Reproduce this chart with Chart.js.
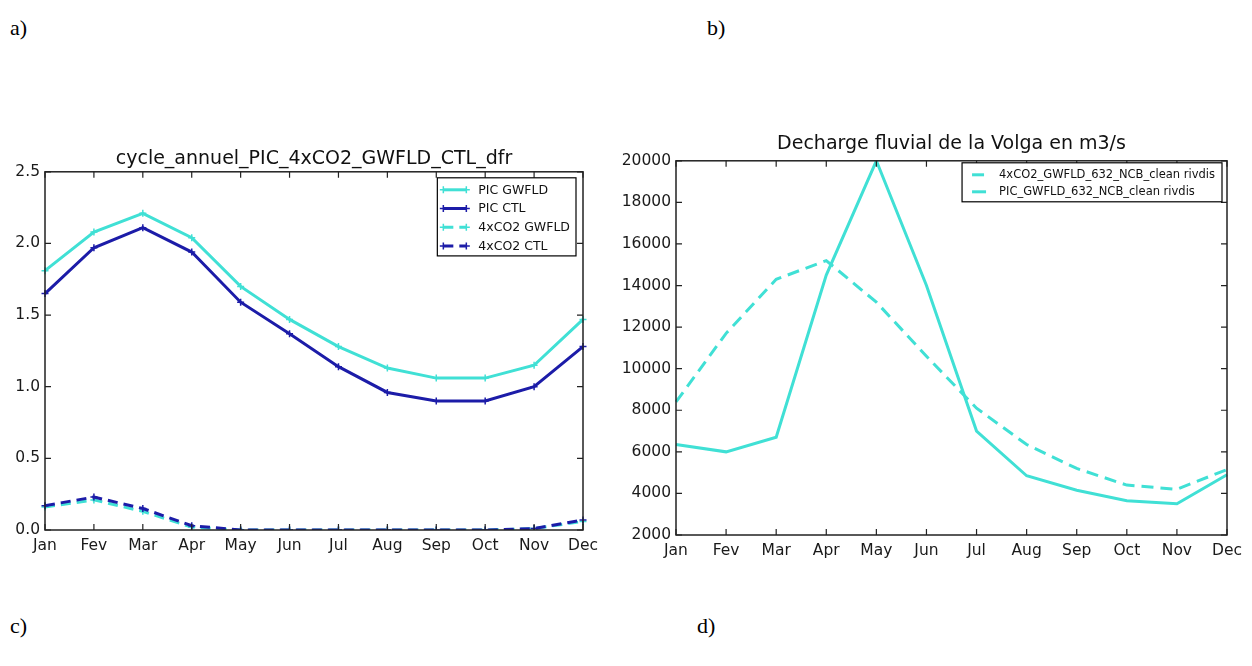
<!DOCTYPE html>
<html>
<head>
<meta charset="utf-8">
<script src="https://cdn.jsdelivr.net/npm/chart.js@4.4.1/dist/chart.umd.min.js"></script>
<style>
  body { margin: 0; background: #fff; width: 1252px; height: 666px; position: relative; overflow: hidden; }
  .lbl { position: absolute; font-family: "Liberation Serif", serif; font-size: 22px; color: #000; line-height: 26px; }
  .box { position: absolute; }
</style>
</head>
<body>
<div class="lbl" style="left:10px;top:15px">a)</div>
<div class="lbl" style="left:707px;top:15px">b)</div>
<div class="lbl" style="left:10px;top:613px">c)</div>
<div class="lbl" style="left:697px;top:613px">d)</div>

<div class="box" style="left:0;top:130px"><canvas id="chartA" width="600" height="440"></canvas></div>
<div class="box" style="left:600px;top:120px"><canvas id="chartB" width="652" height="450"></canvas></div>

<script>
// mois
const months = ['Jan', 'Fev', 'Mar', 'Apr', 'May', 'Jun', 'Jul', 'Aug', 'Sep', 'Oct', 'Nov', 'Dec'];

// a) cycle annuel dfr
const titleA = 'cycle_annuel_PIC_4xCO2_GWFLD_CTL_dfr';
const picGwfld = [1.81, 2.08, 2.21, 2.04, 1.70, 1.47, 1.28, 1.13, 1.06, 1.06, 1.15, 1.47];
const picCtl = [1.65, 1.97, 2.11, 1.94, 1.59, 1.37, 1.14, 0.96, 0.90, 0.90, 1.00, 1.28];
const co2Gwfld = [0.16, 0.21, 0.13, 0.02, 0.00, 0.00, 0.00, 0.00, 0.00, 0.00, 0.01, 0.06];
const co2Ctl = [0.17, 0.23, 0.15, 0.03, 0.00, 0.00, 0.00, 0.00, 0.00, 0.00, 0.01, 0.07];
const yTicksA = [0, 0.5, 1.0, 1.5, 2.0, 2.5];

// b) decharge Volga
const titleB = 'Decharge fluvial de la Volga en m3/s';
const volgaCo2 = [8400, 11700, 14300, 15200, 13200, 10600, 8100, 6350, 5200, 4400, 4200, 5150];
const volgaPic = [6350, 6000, 6700, 14500, 20000, 14000, 7000, 4850, 4150, 3650, 3500, 4900];
const yTicksB = [2000, 4000, 6000, 8000, 10000, 12000, 14000, 16000, 18000, 20000];

const cyan = '#40e0d5';
const navy = '#1c1ca8';
const tickFont = { family: 'DejaVu Sans', size: 15.5 };

// cadre noir + graduations vers l'interieur (style matplotlib)
const framePlugin = {
  id: 'frame',
  afterDatasetsDraw(chart) {
    const a = chart.chartArea, c = chart.ctx;
    const xs = chart.scales.x, ys = chart.scales.y;
    c.save();
    c.strokeStyle = '#222';
    c.lineWidth = 1.5;
    c.strokeRect(a.left, a.top, a.right - a.left, a.bottom - a.top);
    c.lineWidth = 1.2;
    c.beginPath();
    xs.ticks.forEach((t, i) => {
      const px = xs.getPixelForTick(i);
      c.moveTo(px, a.bottom); c.lineTo(px, a.bottom - 6);
      c.moveTo(px, a.top); c.lineTo(px, a.top + 6);
    });
    ys.ticks.forEach((t, i) => {
      const py = ys.getPixelForTick(i);
      c.moveTo(a.left, py); c.lineTo(a.left + 6, py);
      c.moveTo(a.right, py); c.lineTo(a.right - 6, py);
    });
    c.stroke();
    c.restore();
  }
};

function drawCross(c, x, y, r) {
  c.beginPath();
  c.moveTo(x - r, y); c.lineTo(x + r, y);
  c.moveTo(x, y - r); c.lineTo(x, y + r);
  c.stroke();
}

// legende dans le coin haut droit
const boxLegend = {
  id: 'boxLegend',
  afterDraw(chart, args, o) {
    const a = chart.chartArea, c = chart.ctx;
    const sets = chart.data.datasets;
    c.save();
    c.font = o.fontSize + 'px "DejaVu Sans"';
    let maxW = 0;
    sets.forEach(d => { maxW = Math.max(maxW, c.measureText(d.label).width); });
    const w = o.textX + maxW + o.padRight;
    const h = o.rowTop * 2 + o.rowGap * (sets.length - 1) - 2;
    const left = a.right - o.right - w;
    const top = a.top + o.top;
    c.fillStyle = '#fff';
    c.fillRect(left, top, w, h);
    c.strokeStyle = '#000';
    c.lineWidth = 1.2;
    c.strokeRect(left, top, w, h);
    sets.forEach((d, i) => {
      const y = top + o.rowTop + i * o.rowGap;
      c.strokeStyle = d.borderColor;
      c.lineWidth = 3;
      c.setLineDash(d.borderDash || []);
      c.beginPath();
      c.moveTo(left + o.lineX0, y);
      c.lineTo(left + o.lineX1, y);
      c.stroke();
      c.setLineDash([]);
      if (d.pointRadius > 0) {
        c.lineWidth = 1.5;
        drawCross(c, left + o.lineX0, y, 3.5);
        drawCross(c, left + o.lineX1, y, 3.5);
      }
      c.fillStyle = '#111';
      c.textBaseline = 'middle';
      c.fillText(d.label, left + o.textX, y + 0.5);
    });
    c.restore();
  }
};

function line(label, data, color, dashed, marker) {
  return {
    label: label,
    data: data,
    borderColor: color,
    backgroundColor: color,
    borderWidth: 3,
    borderDash: dashed ? [10, 6] : [],
    pointStyle: 'cross',
    pointRadius: marker ? 3.5 : 0,
    pointBorderWidth: 1.5,
    pointBorderColor: color,
    tension: 0,
    fill: false
  };
}

function axes(yMin, yMax, yTicks, yWidth, xHeight, xPad, fmt) {
  return {
    x: {
      type: 'category',
      grid: { display: false, drawTicks: false },
      border: { display: false },
      ticks: { font: tickFont, color: '#1a1a1a', padding: xPad, autoSkip: false, maxRotation: 0 },
      afterFit: s => { s.height = xHeight; s.paddingLeft = 0; s.paddingRight = 0; }
    },
    y: {
      min: yMin,
      max: yMax,
      grid: { display: false, drawTicks: false },
      border: { display: false },
      afterBuildTicks: s => { s.ticks = yTicks.map(v => ({ value: v })); },
      ticks: { font: tickFont, color: '#1a1a1a', padding: 5, callback: fmt },
      afterFit: s => { s.width = yWidth; }
    }
  };
}

// graphique a)
var ctxA = document.getElementById('chartA').getContext('2d');
var chartA = new Chart(ctxA, {
  type: 'line',
  data: {
    labels: months,
    datasets: [
      line('PIC GWFLD', picGwfld, cyan, false, true),
      line('PIC CTL', picCtl, navy, false, true),
      line('4xCO2 GWFLD', co2Gwfld, cyan, true, true),
      line('4xCO2 CTL', co2Ctl, navy, true, true)
    ].map((d, i, arr) => Object.assign(d, { order: arr.length - i }))
  },
  options: {
    responsive: false,
    animation: false,
    layout: { padding: { top: 18, right: 17, bottom: 0, left: 0 } },
    scales: axes(0, 2.5, yTicksA, 45, 40, 7, v => Number(v).toFixed(1)),
    plugins: {
      legend: { display: false },
      tooltip: { enabled: false },
      title: {
        display: true, text: titleA, fullSize: false, color: '#111',
        font: { family: 'DejaVu Sans', size: 19, weight: 'normal' },
        padding: { top: 0, bottom: 1 }
      },
      boxLegend: { fontSize: 12.5, right: 7, top: 6, rowTop: 12, rowGap: 18.7, lineX0: 6, lineX1: 29, textX: 41, padRight: 6 }
    }
  },
  plugins: [framePlugin, boxLegend]
});

// graphique b)
var ctxB = document.getElementById('chartB').getContext('2d');
var chartB = new Chart(ctxB, {
  type: 'line',
  data: {
    labels: months,
    datasets: [
      Object.assign(line('4xCO2_GWFLD_632_NCB_clean rivdis', volgaCo2, cyan, true, false), { borderDash: [12, 7] }),
      line('PIC_GWFLD_632_NCB_clean rivdis', volgaPic, cyan, false, false)
    ]
  },
  options: {
    responsive: false,
    animation: false,
    layout: { padding: { top: 13, right: 25, bottom: 0, left: 0 } },
    scales: axes(2000, 20000, yTicksB, 76, 35, 7, v => String(v)),
    plugins: {
      legend: { display: false },
      tooltip: { enabled: false },
      title: {
        display: true, text: titleB, fullSize: false, color: '#111',
        font: { family: 'DejaVu Sans', size: 19, weight: 'normal' },
        padding: { top: 0, bottom: 5 }
      },
      boxLegend: { fontSize: 11.5, right: 5, top: 2, rowTop: 12, rowGap: 17, lineX0: 10, lineX1: 24, textX: 37, padRight: 7 }
    }
  },
  plugins: [framePlugin, boxLegend]
});
</script>
</body>
</html>
